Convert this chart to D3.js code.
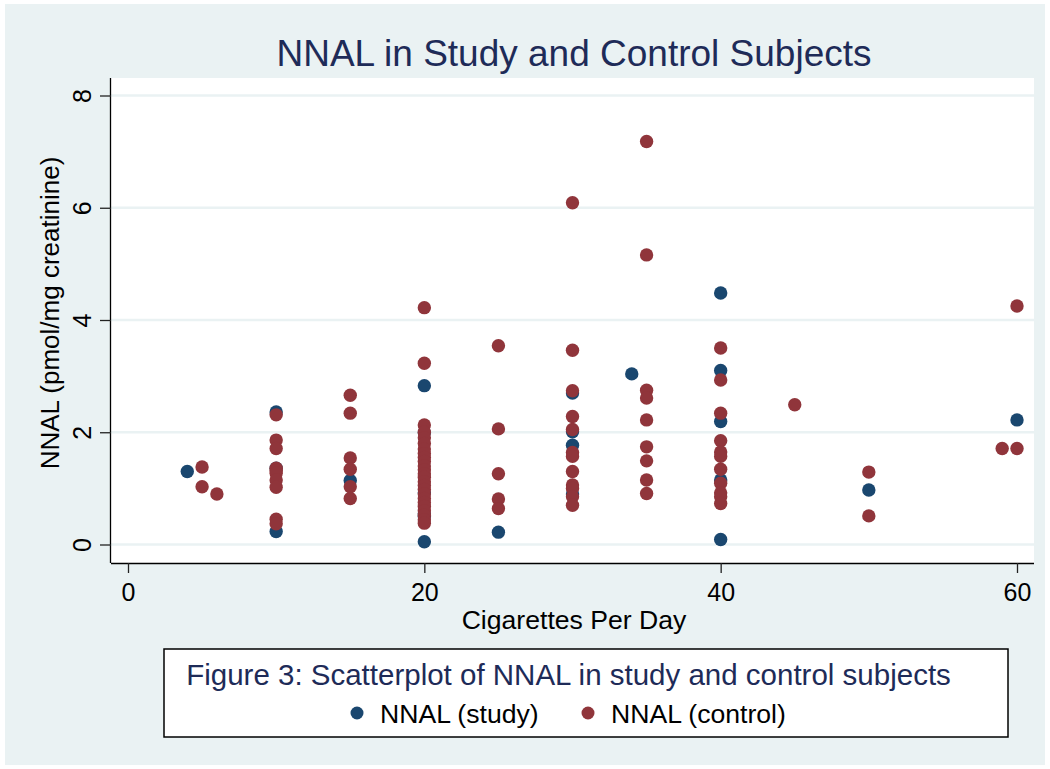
<!DOCTYPE html>
<html><head><meta charset="utf-8">
<script src="https://cdn.jsdelivr.net/npm/d3@7"></script>
<style>
html,body{margin:0;padding:0;background:#fff;}
text{font-family:"Liberation Sans",Arial,sans-serif;}
</style></head>
<body>
<svg id="chart" width="1050" height="769"></svg>
<script>
// ---- data ----
const title = "NNAL in Study and Control Subjects";
const xTitle = "Cigarettes Per Day";
const yTitle = "NNAL (pmol/mg creatinine)";
const legendTitle = "Figure 3: Scatterplot of NNAL in study and control subjects";
const seriesNames = ["NNAL (study)", "NNAL (control)"];
const xTicks = [0, 20, 40, 60];
const yTicks = [0, 2, 4, 6, 8];

const studyX = [4, 10, 10, 10, 15, 20, 20, 20, 20, 20, 20, 25, 30, 30, 30, 30, 34, 40, 40, 40, 40, 40, 50, 60];
const studyY = [1.30, 2.36, 0.23, 1.36, 1.14, 2.83, 1.99, 0.05, 0.50, 0.55, 0.92, 0.22, 2.70, 2.01, 1.77, 0.90, 3.04, 4.48, 3.10, 2.19, 1.15, 0.09, 0.97, 2.22];

const controlX = [5, 5, 6,
  10, 10, 10, 10, 10, 10, 10, 10, 10, 10,
  15, 15, 15, 15, 15, 15,
  20, 20, 20, 20, 20, 20, 20, 20, 20, 20, 20, 20, 20, 20, 20, 20, 20, 20, 20, 20, 20, 20, 20, 20, 20,
  25, 25, 25, 25, 25,
  30, 30, 30, 30, 30, 30, 30, 30, 30, 30, 30, 30,
  35, 35, 35, 35, 35, 35, 35, 35, 35,
  40, 40, 40, 40, 40, 40, 40, 40, 40, 40, 40,
  45, 50, 50, 59, 60, 60];
const controlY = [1.38, 1.03, 0.90,
  2.31, 1.86, 1.71, 1.36, 1.32, 1.27, 1.15, 1.02, 0.45, 0.37,
  2.66, 2.34, 1.54, 1.34, 1.03, 0.82,
  4.22, 3.23, 2.13, 2.00, 1.90, 1.80, 1.70, 1.62, 1.55, 1.48, 1.40, 1.33, 1.26, 1.20, 1.12, 1.05, 0.98, 0.90, 0.82, 0.75, 0.68, 0.60, 0.52, 0.44, 0.38,
  3.54, 2.06, 1.26, 0.81, 0.64,
  6.09, 3.46, 2.74, 2.28, 2.05, 1.64, 1.57, 1.30, 1.06, 1.00, 0.85, 0.70,
  7.18, 5.16, 2.75, 2.61, 2.22, 1.74, 1.49, 1.15, 0.91,
  3.50, 2.93, 2.34, 1.85, 1.65, 1.57, 1.34, 1.09, 0.92, 0.85, 0.73,
  2.49, 1.29, 0.51, 1.71, 4.25, 1.71];

// ---- styles ----
const BG = "#eaf2f3", BLUE = "#1a476f", RED = "#90353b", NAVY = "#1e2b58";
const plot = {left: 111, right: 1034, top: 78, bottom: 563};

const svg = d3.select("#chart");
svg.append("rect").attr("x", 0).attr("y", 0).attr("width", 1050).attr("height", 769).attr("fill", "#fff");
svg.append("rect").attr("x", 5).attr("y", 4).attr("width", 1040).attr("height", 761).attr("fill", BG);
svg.append("rect").attr("x", plot.left).attr("y", plot.top)
  .attr("width", plot.right - plot.left).attr("height", plot.bottom - plot.top).attr("fill", "#fff");

const x = d3.scaleLinear().domain([0, 60]).range([128, 1017]);
const y = d3.scaleLinear().domain([0, 8]).range([544.5, 95.5]);

// gridlines
svg.append("g").selectAll("line").data(yTicks).join("line")
  .attr("x1", plot.left).attr("x2", plot.right)
  .attr("y1", d => y(d)).attr("y2", d => y(d))
  .attr("stroke", BG).attr("stroke-width", 2.5);

// axes
const xAxis = svg.append("g").attr("transform", `translate(0,${plot.bottom})`)
  .call(d3.axisBottom(x).tickValues(xTicks).tickSize(10).tickPadding(10).tickFormat(d3.format("d")));
xAxis.select(".domain").attr("d", `M${plot.left},0.5H${plot.right}`).attr("stroke", "#000").attr("stroke-width", 1.3);
xAxis.selectAll(".tick line").attr("stroke", "#222").attr("stroke-width", 1.3);
xAxis.selectAll(".tick text").attr("font-size", 25).attr("fill", "#000")
  .attr("font-family", "Liberation Sans, Arial, sans-serif");

const yAxis = svg.append("g").attr("transform", `translate(${plot.left},0)`)
  .call(d3.axisLeft(y).tickValues(yTicks).tickSize(11).tickFormat(d3.format("d")));
yAxis.select(".domain").attr("d", `M-0.5,${plot.top}V${plot.bottom}`).attr("stroke", "#000").attr("stroke-width", 1.3);
yAxis.selectAll(".tick line").attr("stroke", "#222").attr("stroke-width", 1.3);
yAxis.selectAll(".tick text")
  .attr("font-size", 25).attr("fill", "#000")
  .attr("font-family", "Liberation Sans, Arial, sans-serif")
  .attr("x", null).attr("dy", null)
  .attr("text-anchor", "middle")
  .attr("transform", "translate(-20,0) rotate(-90)");

// points
const study = studyX.map((v, i) => ({x: v, y: studyY[i]}));
const control = controlX.map((v, i) => ({x: v, y: controlY[i]}));
svg.append("g").selectAll("circle").data(study).join("circle")
  .attr("cx", d => x(d.x)).attr("cy", d => y(d.y)).attr("r", 6.7).attr("fill", BLUE);
svg.append("g").selectAll("circle").data(control).join("circle")
  .attr("cx", d => x(d.x)).attr("cy", d => y(d.y)).attr("r", 6.7).attr("fill", RED);

// titles
svg.append("text").attr("x", 574).attr("y", 66).attr("text-anchor", "middle")
  .attr("font-size", 37).attr("fill", NAVY).text(title);
svg.append("text").attr("x", 574).attr("y", 629).attr("text-anchor", "middle")
  .attr("font-size", 26.6).attr("fill", "#000").text(xTitle);
svg.append("text").attr("transform", "translate(59,313) rotate(-90)").attr("text-anchor", "middle")
  .attr("font-size", 26).attr("fill", "#000").text(yTitle);

// legend
svg.append("rect").attr("x", 164).attr("y", 649).attr("width", 844).attr("height", 88)
  .attr("fill", "#fff").attr("stroke", "#000").attr("stroke-width", 1.5);
svg.append("text").attr("x", 568.5).attr("y", 685).attr("text-anchor", "middle")
  .attr("font-size", 29.5).attr("fill", NAVY).text(legendTitle);
const legendItems = [{name: seriesNames[0], color: BLUE, cx: 357, tx: 380},
                     {name: seriesNames[1], color: RED, cx: 588, tx: 611}];
const lg = svg.append("g").selectAll("g").data(legendItems).join("g");
lg.append("circle").attr("cx", d => d.cx).attr("cy", 713).attr("r", 6.5).attr("fill", d => d.color);
lg.append("text").attr("x", d => d.tx).attr("y", 723).attr("font-size", 26.6).attr("fill", "#000").text(d => d.name);
</script>
</body></html>
